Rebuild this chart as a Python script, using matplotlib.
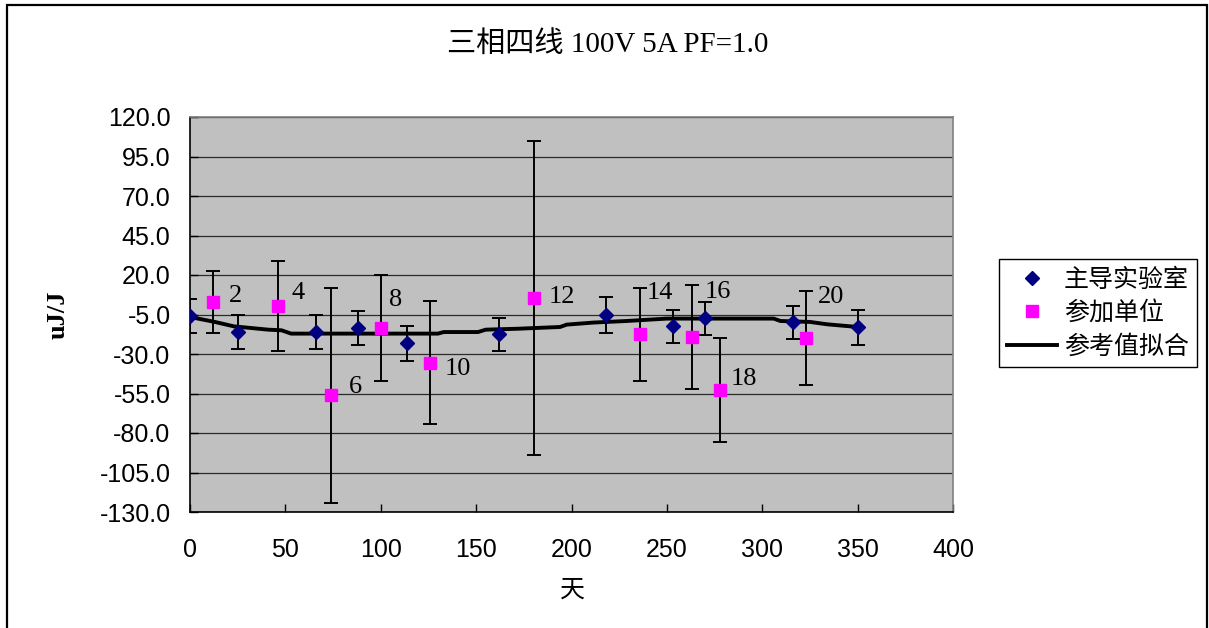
import numpy as np
import matplotlib
matplotlib.use("Agg")
import matplotlib.pyplot as plt
from matplotlib.patches import Rectangle

# 主导实验室 (lead lab) results, day vs deviation in uJ/J
main_x = [0, 25, 66, 88, 114, 162, 218, 253, 270, 316, 350]
main_y = [-5.8, -16.0, -16.0, -13.5, -23.1, -17.5, -5.4, -12.5, -7.4, -10.0, -13.1]
main_err = [10.9, 10.9, 10.9, 10.8, 11.1, 10.5, 11.3, 10.5, 10.6, 10.5, 11.2]

# 参加单位 (participants)
part_ids = ["2", "4", "6", "8", "10", "12", "14", "16", "18", "20"]
part_x = [12, 46, 74, 100, 126, 180.5, 236, 263, 278, 323]
part_y = [2.8, 0.4, -56.0, -13.5, -35.6, 5.4, -17.5, -19.3, -52.8, -20.0]
part_err = [19.5, 28.5, 68.0, 33.5, 39.0, 99.2, 29.5, 33.0, 33.0, 29.7]

# 参考值拟合 (fitted reference curve)
fit_x = [0, 13, 23, 41, 48, 53, 130, 133, 151, 155, 172, 194, 197.5, 211.5,
         229, 250, 306, 309.5, 325, 334, 350]
fit_y = [-6.6, -9.7, -12.5, -14.6, -15.0, -17.1, -17.1, -16.1, -16.1, -14.6,
         -14.0, -12.9, -11.4, -10.1, -9.1, -7.6, -7.6, -9.1, -9.7, -11.2, -12.9]

xticks = np.arange(0, 401, 50)
yticks = np.arange(-130, 121, 25)

# where the participant number sits relative to its square (pixels)
label_offsets = [(23, 6), (20, 13), (24, 8), (15, 28), (28, -6),
                 (28, 1), (20, 41), (26, 45), (24, 11), (25, 41)]

W, H = 1209, 628
fig = plt.figure(figsize=(W / 100, H / 100), dpi=100)
ax = fig.add_axes([190 / W, 1 - 512 / H, (953 - 190) / W, (512 - 117) / H])
ax.set_facecolor("#c0c0c0")

serif_cjk = ["Liberation Serif", "Noto Sans CJK SC"]

ax.errorbar(main_x, main_y, yerr=main_err, fmt="none", ecolor="black",
            elinewidth=1.4, capsize=5, capthick=1.4, zorder=3)
ax.errorbar(part_x, part_y, yerr=part_err, fmt="none", ecolor="black",
            elinewidth=1.4, capsize=5, capthick=1.4, zorder=3)
ax.plot(fit_x, fit_y, color="black", lw=2.8, zorder=4, label="参考值拟合")
ax.plot(main_x, main_y, ls="none", marker="D", ms=7.5, color="#000080",
        zorder=5, label="主导实验室")
ax.plot(part_x, part_y, ls="none", marker="s", ms=8, color="#ff00ff",
        zorder=6, label="参加单位")

for pid, px, py, (dx, dy) in zip(part_ids, part_x, part_y, label_offsets):
    ax.annotate(pid, xy=(px, py), xytext=(dx, dy), textcoords="offset pixels",
                ha="center", va="center", fontsize=19,
                family="Liberation Serif", zorder=7)

ax.set_xlim(0, 400)
ax.set_ylim(-130, 120)
ax.set_xticks(xticks)
ax.set_yticks(yticks)
ax.set_yticklabels([f"{v:.1f}" for v in yticks])
ax.yaxis.grid(True, color="#2a2a2a", lw=0.9)
ax.set_axisbelow(True)
ax.tick_params(axis="both", direction="in", length=6, width=1,
               labelsize=18)
ax.tick_params(axis="x", pad=19)
ax.tick_params(axis="y", pad=14)
for lab in ax.get_xticklabels() + ax.get_yticklabels():
    lab.set_family("Liberation Sans")

ax.spines["left"].set_color("black")
ax.spines["bottom"].set_color("black")
ax.spines["top"].set_color("#808080")
ax.spines["right"].set_color("#808080")
for s in ax.spines.values():
    s.set_linewidth(1.2)

fig.text(608 / W, 1 - 44 / H, "三相四线 100V 5A PF=1.0", ha="center",
         va="center", fontsize=21, family=serif_cjk)
fig.text(572 / W, 1 - 590 / H, "天", ha="center", va="center", fontsize=18,
         family="Noto Sans CJK SC")
fig.text(58 / W, 1 - 315 / H, "uJ/J", ha="center", va="center", fontsize=19,
         family="Liberation Serif", weight="bold", rotation=90)

handles, labels = ax.get_legend_handles_labels()
order = [1, 2, 0]
leg = ax.legend([handles[i] for i in order], [labels[i] for i in order],
                loc="upper left", bbox_to_anchor=(999 / W, 1 - 259 / H),
                bbox_transform=fig.transFigure, fancybox=False,
                edgecolor="black", framealpha=1, borderaxespad=0,
                prop={"family": "Noto Sans CJK SC", "size": 18},
                labelspacing=0.3, borderpad=0.3, handlelength=2.0,
                handletextpad=0.3)
leg.get_frame().set_linewidth(1.0)

# outer chart border
fig.patches.append(Rectangle((7 / W, -0.05), 1200 / W, 1.05 - 5 / H,
                             transform=fig.transFigure, fill=False,
                             edgecolor="black", lw=1.6))

fig.savefig("out.png", dpi=100)
